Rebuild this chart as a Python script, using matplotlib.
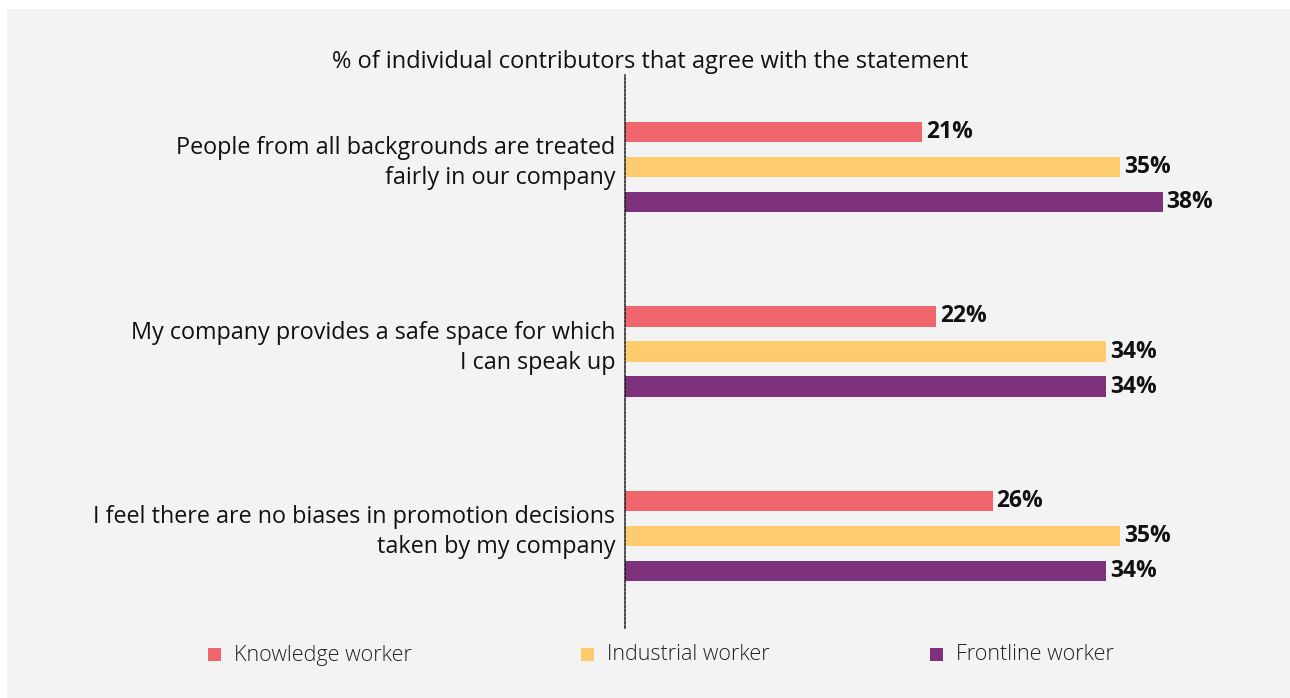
import matplotlib.pyplot as plt
import matplotlib.transforms as mtrans
from matplotlib.patches import Rectangle

statements = ['People from all backgrounds are treated\nfairly in our company',
              'My company provides a safe space for which\nI can speak up',
              'I feel there are no biases in promotion decisions\ntaken by my company']
series = ['Knowledge worker', 'Industrial worker', 'Frontline worker']
knowledge = [21, 22, 26]
industrial = [35, 34, 35]
frontline = [38, 34, 34]
colors = ['#F0666D', '#FFCB6F', '#7F327C']

plt.rcParams['font.family'] = ['Open Sans', 'DejaVu Sans']

fig = plt.figure(figsize=(12.9, 6.98), dpi=100)
bg = Rectangle((7 / 1290, 0), 1, 1 - 9 / 698, transform=fig.transFigure,
               facecolor='#F2F3F2', edgecolor='none', zorder=-10)
fig.patches.append(bg)

ax = fig.add_axes([625 / 1290, 70 / 698, 637 / 1290, 553 / 698])
ax.set_facecolor('none')

offsets = [-0.19, 0, 0.19]
for i, (vals, c) in enumerate(zip([knowledge, industrial, frontline], colors)):
    for j, v in enumerate(vals):
        y = j + offsets[i]
        ax.barh(y, v, height=0.11, color=c, zorder=2)
        ax.text(v + 0.25, y, f'{v}%', va='center', ha='left', fontsize=16.5,
                fontweight='bold', color='#111111')

ax.set_xlim(0, 45)
ax.set_ylim(2.5, -0.5)
ax.set_yticks(range(len(statements)))
ax.set_yticklabels(statements, fontsize=16.8, color='#111111', linespacing=1.35)
ax.tick_params(axis='y', length=0, pad=7)
# labels sit a bit above the middle bar
shift = mtrans.ScaledTranslation(0, 10 / 100, fig.dpi_scale_trans)
for lab in ax.get_yticklabels():
    lab.set_transform(lab.get_transform() + shift)
ax.set_xticks([])
for s in ['top', 'right', 'bottom']:
    ax.spines[s].set_visible(False)
ax.spines['left'].set_linestyle((0, (1.5, 1.2)))
ax.spines['left'].set_linewidth(1.1)
ax.spines['left'].set_color('#1a1a1a')

fig.text(650 / 1290, 1 - 62 / 698, '% of individual contributors that agree with the statement',
         ha='center', va='center', fontsize=17, color='#111111')

# legend
leg_x = [208, 581, 930]
for name, c, x in zip(series, colors, leg_x):
    fig.patches.append(Rectangle((x / 1290, 1 - 661 / 698), 13 / 1290, 13 / 698,
                                 transform=fig.transFigure, facecolor=c, edgecolor='none'))
    fig.text((x + 26) / 1290, 1 - 655 / 698, name, ha='left', va='center',
             fontsize=15.5, fontweight='light', color='#222222')

fig.savefig('out.png', dpi=100)
